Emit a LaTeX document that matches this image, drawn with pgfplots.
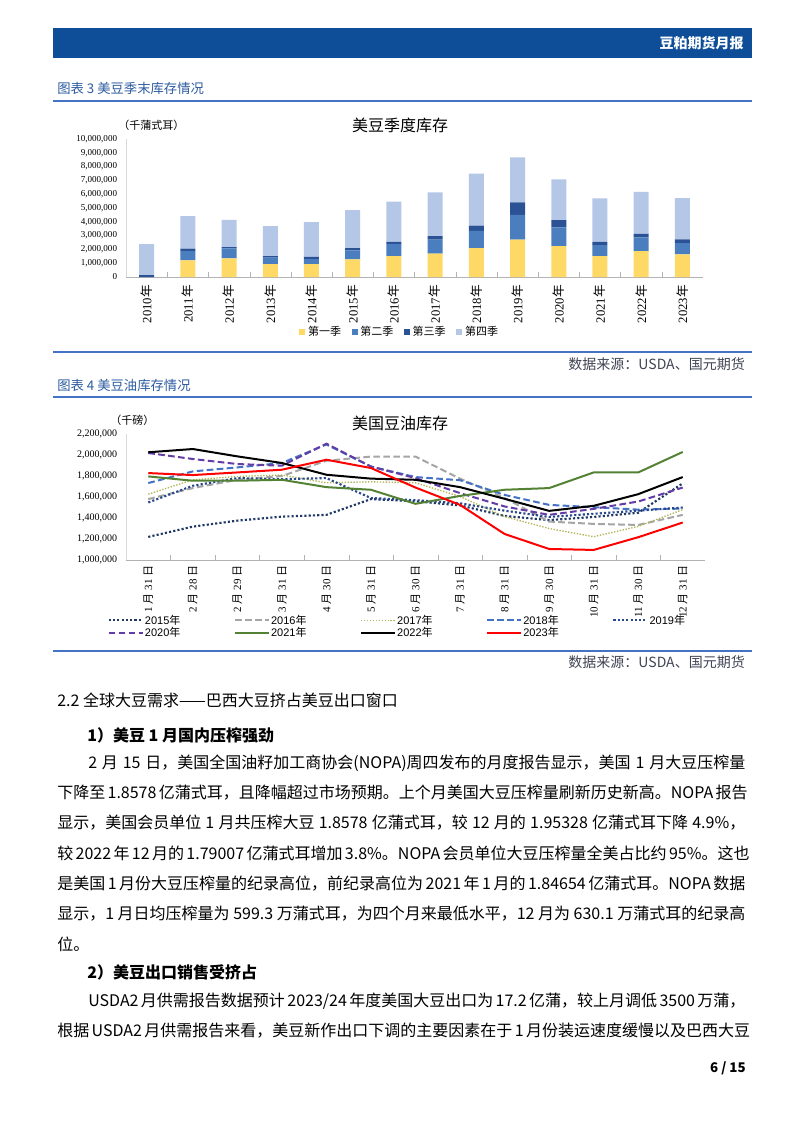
\documentclass[border=0pt]{standalone}
\usepackage{fontspec}
\usepackage{pgfplots}
\usepackage{pgfplotstable}
\pgfplotsset{compat=1.18}
\setmainfont{Liberation Serif}
\setsansfont{Liberation Sans}
\newfontfamily\cjk{Noto Sans CJK SC}
\XeTeXlinebreaklocale "zh"
\XeTeXlinebreakskip=0pt plus 4pt minus 0.3pt

\definecolor{hdrblue}{RGB}{14,78,152}
\definecolor{capblue}{RGB}{46,92,160}
\definecolor{rulblue}{RGB}{68,114,196}
\definecolor{srcgray}{RGB}{64,68,84}
\definecolor{qone}{RGB}{255,217,102}
\definecolor{qtwo}{RGB}{74,126,190}
\definecolor{qthree}{RGB}{44,82,150}
\definecolor{qfour}{RGB}{180,199,231}
\definecolor{c15}{RGB}{31,56,100}
\definecolor{c16}{RGB}{165,165,165}
\definecolor{c17}{RGB}{176,180,86}
\definecolor{c18}{RGB}{68,114,196}
\definecolor{c19}{RGB}{40,72,140}
\definecolor{c20}{RGB}{100,60,165}
\definecolor{c21}{RGB}{84,130,53}
\definecolor{c23}{RGB}{255,0,0}

\pgfplotstableread{
x q1 q2 q3 q4
0 0 0 130000 2260000
1 1200000 680000 170000 2360000
2 1350000 720000 100000 1970000
3 940000 460000 120000 2170000
4 940000 360000 150000 2530000
5 1280000 650000 170000 2740000
6 1520000 870000 160000 2920000
7 1690000 1010000 260000 3180000
8 2100000 1250000 380000 3760000
9 2700000 1810000 890000 3270000
10 2240000 1350000 530000 2960000
11 1520000 790000 240000 3140000
12 1880000 990000 260000 3040000
13 1640000 820000 260000 2990000
}\stocks

\pgfplotstableread{
x a15 a16 a17 a18 a19 a20 a21 a22 a23
0 1220000 1580000 1627000 1733000 1548000 2019000 1796000 2026000 1828000
1 1318000 1685000 1764000 1844000 1707000 1962000 1755000 2057000 1809000
2 1375000 1764000 1796000 1882000 1780000 1914000 1755000 1987000 1834000
3 1413000 1800000 1810000 1924000 1770000 1898000 1764000 1924000 1860000
4 1430000 1945000 1735000 2100000 1780000 2108000 1694000 1812000 1955000
5 1580000 1985000 1745000 1890000 1590000 1890000 1669000 1775000 1876000
6 1560000 1985000 1735000 1790000 1570000 1780000 1535000 1764000 1690000
7 1520000 1775000 1605000 1760000 1540000 1637000 1610000 1694000 1525000
8 1420000 1590000 1414000 1620000 1470000 1510000 1669000 1583000 1248000
9 1380000 1366000 1300000 1525000 1410000 1430000 1685000 1468000 1105000
10 1410000 1344000 1222000 1503000 1440000 1487000 1834000 1516000 1096000
11 1450000 1334000 1320000 1480000 1470000 1557000 1834000 1627000 1217000
12 1730000 1430000 1480000 1490000 1500000 1690000 2029000 1790000 1357000
}\oil

\newcommand\bodyline[4]{\node[anchor=west,inner sep=0pt] at (#1,#2) {\hbox to #3pt{\cjk\fontsize{12}{14}\selectfont #4}};}

\begin{document}
\begin{tikzpicture}
\path[use as bounding box] (0pt,0pt) rectangle (601.5pt,-849.75pt);
\fill[white] (0pt,0pt) rectangle (601.5pt,-849.75pt);
\begin{scope}[x=0.75pt,y=-0.75pt]
 % header
 \fill[hdrblue] (53,28) rectangle (752,58);
 \node[anchor=east,text=white,inner sep=0pt] at (744,43) {\cjk\bfseries\fontsize{10.5}{12}\selectfont 豆粕期货月报};
 % chart 3 caption
 \node[anchor=west,text=capblue,inner sep=0pt] at (57,88) {\cjk\fontsize{10}{12}\selectfont 图表 3\ 美豆季末库存情况};
 \draw[rulblue,line width=1.1pt] (53,101) -- (752,101);
 \node[inner sep=0pt] at (400,125) {\cjk\fontsize{12}{14}\selectfont 美豆季度库存};
 \node[anchor=west,inner sep=0pt] at (118,125) {\cjk\fontsize{8.25}{10}\selectfont （千蒲式耳）};
 \draw[rulblue,line width=1.1pt] (53,352) -- (752,352);
 \node[anchor=east,text=srcgray,inner sep=0pt] at (745,364) {\cjk\fontsize{10.5}{12}\selectfont 数据来源：USDA、国元期货};
 % chart 4 caption
 \node[anchor=west,text=capblue,inner sep=0pt] at (57,385) {\cjk\fontsize{10}{12}\selectfont 图表 4\ 美豆油库存情况};
 \draw[rulblue,line width=1.1pt] (53,397) -- (752,397);
 \node[inner sep=0pt] at (400,423) {\cjk\fontsize{12}{14}\selectfont 美国豆油库存};
 \node[anchor=west,inner sep=0pt] at (110,420) {\cjk\fontsize{8.25}{10}\selectfont （千磅）};
 \draw[rulblue,line width=1.1pt] (53,651) -- (752,651);
 \node[anchor=east,text=srcgray,inner sep=0pt] at (745,662) {\cjk\fontsize{10.5}{12}\selectfont 数据来源：USDA、国元期货};
 % section text
 \node[anchor=west,inner sep=0pt] at (57,700) {\cjk\fontsize{12}{14}\selectfont 2.2\ 全球大豆需求——巴西大豆挤占美豆出口窗口};
 \node[anchor=west,inner sep=0pt] at (87,735) {\cjk\bfseries\fontsize{12}{14}\selectfont 1）美豆 1 月国内压榨强劲};
 \bodyline{88}{763}{492.75}{2 月 15 日，美国全国油籽加工商协会(NOPA)周四发布的月度报告显示，美国 1 月大豆压榨量}
 \bodyline{57}{793}{516}{下降至 1.8578 亿蒲式耳，且降幅超过市场预期。上个月美国大豆压榨量刷新历史新高。NOPA 报告}
 \bodyline{57}{823}{516}{显示，美国会员单位 1 月共压榨大豆 1.8578 亿蒲式耳，较 12 月的 1.95328 亿蒲式耳下降 4.9\%，}
 \bodyline{57}{853}{516}{较 2022 年 12 月的 1.79007 亿蒲式耳增加 3.8\%。NOPA 会员单位大豆压榨量全美占比约 95\%。这也}
 \bodyline{57}{884}{516}{是美国 1 月份大豆压榨量的纪录高位，前纪录高位为 2021 年 1 月的 1.84654 亿蒲式耳。NOPA 数据}
 \bodyline{57}{914}{516}{显示，1 月日均压榨量为 599.3 万蒲式耳，为四个月来最低水平，12 月为 630.1 万蒲式耳的纪录高}
 \node[anchor=west,inner sep=0pt] at (57,944) {\cjk\fontsize{12}{14}\selectfont 位。};
 \node[anchor=west,inner sep=0pt] at (87,972) {\cjk\bfseries\fontsize{12}{14}\selectfont 2）美豆出口销售受挤占};
 \bodyline{88}{1001}{492.75}{USDA2 月供需报告数据预计 2023/24 年度美国大豆出口为 17.2 亿蒲，较上月调低 3500 万蒲，}
 \bodyline{57}{1031}{516}{根据 USDA2 月供需报告来看，美豆新作出口下调的主要因素在于 1 月份装运速度缓慢以及巴西大豆}
 \node[anchor=east,inner sep=0pt] at (746,1068) {\cjk\bfseries\fontsize{10}{12}\selectfont 6 / 15};
\end{scope}

% ---------- chart 3: stacked bars ----------
\begin{axis}[
  at={(94.5pt,-207.75pt)}, anchor=south west,
  scale only axis, width=432.75pt, height=103.5pt,
  ybar stacked, bar width=11.25pt,
  xmin=-0.5, xmax=13.5, ymin=0, ymax=10000000,
  axis x line*=bottom, axis y line*=left,
  x axis line style={draw=gray!60,-}, y axis line style={draw=gray!30,-},
  xtick={0,...,13},
  xticklabels={2010{\cjk 年},2011{\cjk 年},2012{\cjk 年},2013{\cjk 年},2014{\cjk 年},2015{\cjk 年},2016{\cjk 年},2017{\cjk 年},2018{\cjk 年},2019{\cjk 年},2020{\cjk 年},2021{\cjk 年},2022{\cjk 年},2023{\cjk 年}},
  xticklabel style={rotate=90,anchor=east,inner sep=0pt,font=\fontsize{9.5}{10}\selectfont},
  xticklabel shift=6pt,
  tick align=inside, major tick length=0pt, minor tick length=3.5pt,
  minor x tick num=1, minor x tick style={draw=gray!60},
  ytick={0,1000000,2000000,3000000,4000000,5000000,6000000,7000000,8000000,9000000,10000000},
  scaled y ticks=false,
  /pgf/number format/assume math mode=true,
  yticklabel style={inner sep=0pt,font=\fontsize{6.8}{7}\selectfont,/pgf/number format/fixed,/pgf/number format/1000 sep={,}},
  yticklabel shift=6.5pt,
  legend columns=4,
  legend style={draw=none,fill=none,at={(0.475,-0.40)},anchor=center,
    font=\cjk\fontsize{8.25}{9}\selectfont,
    /tikz/every even column/.append style={column sep=6pt}},
]
\addplot[fill=qone,draw=none,legend image code/.code={\fill[qone] (0pt,-2.2pt) rectangle (4.5pt,2.3pt);}] table[x=x,y=q1] {\stocks};
\addlegendentry{第一季}
\addplot[fill=qtwo,draw=none,legend image code/.code={\fill[qtwo] (0pt,-2.2pt) rectangle (4.5pt,2.3pt);}] table[x=x,y=q2] {\stocks};
\addlegendentry{第二季}
\addplot[fill=qthree,draw=none,legend image code/.code={\fill[qthree] (0pt,-2.2pt) rectangle (4.5pt,2.3pt);}] table[x=x,y=q3] {\stocks};
\addlegendentry{第三季}
\addplot[fill=qfour,draw=none,legend image code/.code={\fill[qfour] (0pt,-2.2pt) rectangle (4.5pt,2.3pt);}] table[x=x,y=q4] {\stocks};
\addlegendentry{第四季}
\end{axis}

% ---------- chart 4: lines ----------
\begin{axis}[
  at={(94.5pt,-420pt)}, anchor=south west,
  scale only axis, width=434.25pt, height=94.5pt,
  xmin=-0.5, xmax=12.5, ymin=1000000, ymax=2200000,
  axis x line*=bottom, axis y line*=left,
  x axis line style={draw=gray!60,-}, y axis line style={draw=gray!30,-},
  xtick={0,...,12},
  xticklabels={{1 {\cjk 月} 31 {\cjk 日}},{2 {\cjk 月} 28 {\cjk 日}},{2 {\cjk 月} 29 {\cjk 日}},{3 {\cjk 月} 31 {\cjk 日}},{4 {\cjk 月} 30 {\cjk 日}},{5 {\cjk 月} 31 {\cjk 日}},{6 {\cjk 月} 30 {\cjk 日}},{7 {\cjk 月} 31 {\cjk 日}},{8 {\cjk 月} 31 {\cjk 日}},{9 {\cjk 月} 30 {\cjk 日}},{10 {\cjk 月} 31 {\cjk 日}},{11 {\cjk 月} 30 {\cjk 日}},{12 {\cjk 月} 31 {\cjk 日}}},
  xticklabel style={rotate=90,anchor=east,inner sep=0pt,font=\fontsize{8.25}{9}\selectfont},
  xticklabel shift=4pt,
  tick align=inside, major tick length=0pt, minor tick length=3.5pt,
  minor x tick num=1, minor x tick style={draw=gray!60},
  ytick={1000000,1200000,1400000,1600000,1800000,2000000,2200000},
  scaled y ticks=false,
  /pgf/number format/assume math mode=true,
  yticklabel style={inner sep=0pt,font=\fontsize{7.5}{8}\selectfont,/pgf/number format/fixed,/pgf/number format/1000 sep={,}},
  yticklabel shift=6.5pt,
  legend columns=5,
  legend cell align=left,
  legend image code/.code={\draw[#1] (0pt,0pt) -- (25.5pt,0pt);},
  legend style={draw=none,fill=none,at={(-0.032,-0.424)},anchor=north west,
    font=\sffamily\fontsize{8.25}{9}\selectfont,inner sep=0pt,row sep=-0.5pt,
    nodes={inner sep=0.8pt}},
]
\addplot[c15,line width=1.6pt,dash pattern=on 1.6pt off 1.6pt] table[x=x,y=a15] {\oil};
\addlegendentry{\makebox[66pt][l]{2015{\cjk 年}}}
\addplot[c16,line width=1.5pt,dash pattern=on 5pt off 2.5pt] table[x=x,y=a16] {\oil};
\addlegendentry{\makebox[66pt][l]{2016{\cjk 年}}}
\addplot[c17,line width=1pt,dash pattern=on 1pt off 1.2pt] table[x=x,y=a17] {\oil};
\addlegendentry{\makebox[66pt][l]{2017{\cjk 年}}}
\addplot[c18,line width=1.5pt,dash pattern=on 5pt off 2.5pt] table[x=x,y=a18] {\oil};
\addlegendentry{\makebox[66pt][l]{2018{\cjk 年}}}
\addplot[c19,line width=1.6pt,dash pattern=on 1.6pt off 1.6pt] table[x=x,y=a19] {\oil};
\addlegendentry{\makebox[66pt][l]{2019{\cjk 年}}}
\addplot[c20,line width=1.5pt,dash pattern=on 5pt off 2.5pt] table[x=x,y=a20] {\oil};
\addlegendentry{\makebox[66pt][l]{2020{\cjk 年}}}
\addplot[c21,line width=1.5pt] table[x=x,y=a21] {\oil};
\addlegendentry{\makebox[66pt][l]{2021{\cjk 年}}}
\addplot[black,line width=1.5pt] table[x=x,y=a22] {\oil};
\addlegendentry{\makebox[66pt][l]{2022{\cjk 年}}}
\addplot[c23,line width=1.5pt] table[x=x,y=a23] {\oil};
\addlegendentry{\makebox[66pt][l]{2023{\cjk 年}}}
\end{axis}
\end{tikzpicture}
\end{document}
